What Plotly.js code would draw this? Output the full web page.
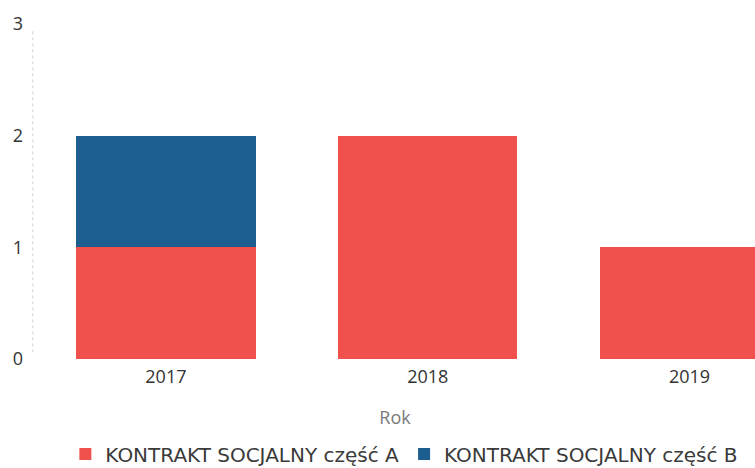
<!DOCTYPE html>
<html>
<head>
<meta charset="utf-8">
<script src="https://cdn.plot.ly/plotly-3.0.1.min.js"></script>
<style>html,body{margin:0;padding:0;background:#fff;}#chart{width:755px;height:468px;}</style>
</head>
<body>
<div id="chart"></div>
<script>
const years = ['2017', '2018', '2019'];
const seriesNames = ['KONTRAKT SOCJALNY część A', 'KONTRAKT SOCJALNY część B'];
const partA = [1, 2, 1];
const partB = [1, 0, 0];
const yTicks = [0, 1, 2, 3];

const traces = [
  {type: 'bar', name: seriesNames[0], x: years, y: partA, marker: {color: '#f0514c'}, hoverinfo: 'x+y+name'},
  {type: 'bar', name: seriesNames[1], x: years, y: partB, marker: {color: '#1c5e90'}, hoverinfo: 'x+y+name'}
];

const layout = {
  width: 755, height: 468,
  margin: {l: 35, r: 0, t: 24, b: 109, autoexpand: false},
  paper_bgcolor: '#fff', plot_bgcolor: '#fff',
  font: {family: 'Open Sans, sans-serif', size: 18, color: '#333'},
  barmode: 'stack',
  bargap: 0.315,
  showlegend: true,
  legend: {orientation: 'h', x: 0.513, xanchor: 'center', y: -0.225, yanchor: 'top',
           font: {family: 'DejaVu Sans, sans-serif', size: 20, color: '#3a3a3a'}, traceorder: 'normal'},
  xaxis: {
    type: 'category', range: [-0.5, 2.25], showgrid: false, zeroline: false, showline: false,
    ticks: '', ticklabelstandoff: 5, tickfont: {size: 18, color: '#333'},
    title: {text: 'Rok', font: {size: 18, color: '#7a7a7a'}, standoff: 24}
  },
  yaxis: {
    range: [0, 3], tickvals: yTicks, showgrid: false, zeroline: false, showline: false,
    ticks: '', ticklabelstandoff: 11, tickfont: {size: 18, color: '#333'}
  },
  shapes: [
    {type: 'line', xref: 'paper', yref: 'paper', x0: -0.003, x1: -0.003, y0: 0.02, y1: 0.98,
     line: {color: '#d0d0d0', width: 1, dash: 'dot'}, layer: 'below'}
  ]
};

Plotly.newPlot('chart', traces, layout, {displayModeBar: false, staticPlot: true});
</script>
</body>
</html>
